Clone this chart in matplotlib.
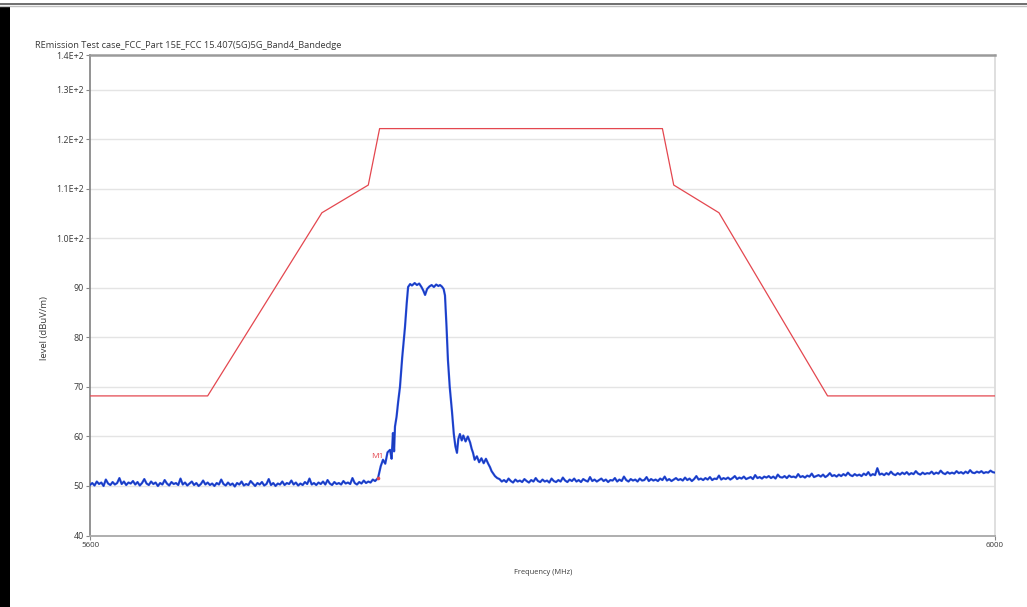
import numpy as np
import matplotlib
matplotlib.use("Agg")
import matplotlib.pyplot as plt
from matplotlib.patches import Rectangle
from matplotlib.lines import Line2D

# ---------------- data ----------------
title = "REmission Test case_FCC_Part 15E_FCC 15.407(5G)5G_Band4_Bandedge"
x_label = "Frequency (MHz)"
y_label = "level (dBuV/m)"

y_ticks = [40, 50, 60, 70, 80, 90, 100, 110, 120, 130, 137.07]
y_tick_labels = ["40", "50", "60", "70", "80", "90", "1.0E+2", "1.1E+2", "1.2E+2", "1.3E+2", "1.4E+2"]
x_ticks = [5600, 6000]
x_tick_labels = ["5600", "6000"]

limit_f = [5600, 5652, 5702.5, 5723, 5728, 5853, 5858, 5878, 5926, 6000]
limit_v = [68.2, 68.2, 105.2, 110.8, 122.2, 122.2, 110.8, 105.2, 68.2, 68.2]

# measured trace, lower band noise (5600 .. 5726 MHz, 1 MHz steps)
left_noise = [50.2, 50.6, 50.1, 50.9, 50.4, 50.7, 50.0, 51.3, 50.5, 50.2,
              50.8, 50.3, 50.6, 51.6, 50.4, 50.9, 50.2, 50.7, 50.5, 51.0,
              50.3, 50.8, 50.1, 50.6, 51.4, 50.5, 50.2, 50.9, 50.4, 50.7,
              50.0, 50.6, 50.3, 51.2, 50.5, 50.1, 50.8, 50.4, 50.6, 50.2,
              51.5, 50.3, 50.7, 50.1, 50.5, 50.9, 50.2, 50.6, 50.0, 50.4,
              51.1, 50.3, 50.7, 50.2, 50.5, 50.0, 50.6, 50.3, 51.3, 50.4,
              50.1, 50.7, 50.2, 50.5, 49.9, 50.6, 50.3, 50.9, 50.1, 50.4,
              50.2, 51.0, 50.5, 50.0, 50.6, 50.3, 50.8, 50.1, 50.4, 51.4,
              50.2, 50.6, 50.0, 50.5, 50.3, 50.9, 50.2, 50.6, 50.4, 51.1,
              50.3, 50.7, 50.1, 50.5, 50.2, 50.8, 50.4, 51.5, 50.3, 50.6,
              50.2, 50.7, 50.4, 50.9, 50.3, 51.2, 50.5, 50.2, 50.8, 50.4,
              50.6, 50.3, 51.0, 50.5, 50.7, 50.4, 51.6, 50.6, 50.3, 50.8,
              50.5, 51.1, 50.6, 50.9, 50.7, 51.3, 51.0]

# in-band emission (frequency, level)
sig_f = [5727.3, 5728.5, 5729.5, 5730.5, 5731.5, 5732.6, 5733.3, 5733.9, 5734.4, 5734.8,
         5735.5, 5736.2, 5737.0, 5738.0, 5739.2, 5740.0, 5740.6, 5741.5, 5742.3, 5743.5,
         5744.5, 5745.5, 5746.5, 5747.3, 5748.1, 5749.0, 5750.0, 5751.0, 5752.0, 5753.0,
         5754.0, 5754.7, 5755.5, 5756.3, 5756.9, 5757.6, 5758.2, 5759.0, 5760.0, 5760.8,
         5761.5, 5762.2, 5762.8, 5763.5, 5764.3, 5765.0, 5766.0, 5767.0, 5768.0, 5768.7,
         5769.3, 5770.0, 5771.0, 5772.0, 5773.0, 5774.0, 5775.0, 5776.0, 5776.8, 5777.5,
         5778.1, 5779.0, 5780.0]
sig_v = [51.6, 54.0, 55.3, 54.5, 56.8, 57.3, 55.5, 60.7, 57.0, 62.0,
         64.0, 67.0, 70.0, 76.0, 82.0, 87.0, 90.2, 90.8, 90.5, 91.0,
         90.6, 90.9, 90.2, 89.5, 88.6, 89.8, 90.3, 90.6, 90.2, 90.7,
         90.4, 90.6, 90.3, 89.8, 88.5, 82.0, 75.5, 70.0, 65.0, 60.5,
         58.0, 56.7, 59.5, 60.5, 59.2, 60.2, 59.0, 60.0, 58.8, 57.5,
         56.7, 55.3, 56.0, 54.8, 55.6, 54.6, 55.5, 54.5, 53.8, 53.0,
         52.6, 52.0, 51.6]

# upper band noise (5781 .. 6000 MHz, 1 MHz steps)
right_noise = [51.4, 50.9, 51.2, 50.8, 51.5, 51.0, 50.7, 51.3, 50.9, 51.1,
               50.8, 51.4, 51.0, 50.7, 51.2, 50.9, 51.6, 51.0, 50.8, 51.3,
               50.9, 51.1, 50.7, 51.5, 51.0, 50.8, 51.2, 50.9, 51.7, 51.1,
               50.8, 51.3, 51.0, 51.5, 50.9, 51.2, 50.8, 51.4, 51.1, 50.9,
               51.8, 51.0, 51.3, 50.9, 51.2, 51.5, 51.0, 51.3, 50.8, 51.2,
               51.1, 51.6, 50.9, 51.3, 51.0, 51.9, 51.2, 50.9, 51.4, 51.1,
               51.3, 50.9, 51.5, 51.1, 51.2, 51.8, 51.0, 51.4, 51.1, 51.3,
               51.0, 51.5, 51.2, 51.9, 51.1, 51.4, 51.0, 51.3, 51.6, 51.2,
               51.4, 51.1, 51.7, 51.2, 51.5, 51.0, 51.4, 52.0, 51.3, 51.5,
               51.2, 51.6, 51.3, 51.8, 51.2, 51.5, 51.4, 52.1, 51.3, 51.6,
               51.4, 51.7, 51.3, 51.6, 52.0, 51.4, 51.7, 51.5, 51.9, 51.4,
               51.6, 51.8, 51.4, 52.2, 51.6, 51.8, 51.5, 51.9, 51.7, 52.0,
               51.6, 51.9, 51.5, 52.3, 51.8, 51.7, 52.0, 51.6, 52.1, 51.8,
               51.9, 51.7, 52.4, 51.8, 52.0, 51.7, 52.1, 51.9, 52.5, 51.8,
               52.0, 52.2, 51.9, 52.3, 51.8, 52.1, 52.6, 52.0, 52.2, 51.9,
               52.3, 52.0, 52.4, 52.1, 52.7, 52.2, 52.0, 52.4, 52.1, 52.3,
               52.0, 52.5, 52.2, 52.8, 52.1, 52.4, 52.2, 53.6, 52.3, 52.5,
               52.2, 52.6, 52.3, 52.9, 52.4, 52.2, 52.6, 52.3, 52.7, 52.4,
               52.8, 52.3, 52.6, 52.4, 53.0, 52.5, 52.3, 52.7, 52.4, 52.6,
               52.5, 52.9, 52.4, 52.7, 52.5, 53.1, 52.6, 52.4, 52.8, 52.5,
               52.7, 52.5, 53.0, 52.6, 52.8, 52.5, 52.9, 52.6, 53.2, 52.7,
               52.6, 52.9, 52.7, 53.0, 52.6, 52.8, 52.7, 53.1, 52.8, 52.7]

marker_label = "M1"
marker_f = 5727.3
marker_v = 51.6

# ---------------- figure ----------------
W, H = 1027, 607
fig = plt.figure(figsize=(W / 100, H / 100), dpi=100)
fig.patch.set_facecolor("white")

font = "Open Sans"
txt = "#3a3a3a"

ax = fig.add_axes([90 / W, 1 - 535.5 / H, 905 / W, 480.5 / H])

left_f = np.linspace(5600, 5726, len(left_noise))
right_f = np.linspace(5781, 6000, len(right_noise))
trace_f = np.concatenate([left_f, sig_f, right_f])
trace_v = np.concatenate([left_noise, sig_v, right_noise])

ax.plot(limit_f, limit_v, color="#e4474f", lw=0.9, zorder=3)
ax.plot(trace_f, trace_v, color="#2a4fe0", lw=1.6, zorder=4)
ax.plot(trace_f, trace_v, color="#0b2a96", lw=0.5, zorder=5, alpha=0.7)

ax.plot([marker_f], [marker_v], marker="o", ms=1.6, color="#e4474f", zorder=6)
ax.text(marker_f + 2.5, marker_v + 3.6, marker_label, color="#e4474f",
        fontsize=6, family=font, ha="right", va="bottom", zorder=6)

ax.set_xlim(5600, 6000)
ax.set_ylim(40, 137.07)
ax.set_yticks(y_ticks)
ax.set_yticklabels(y_tick_labels, family=font, fontsize=6.4, color=txt)
ax.set_xticks(x_ticks)
ax.set_xticklabels(x_tick_labels, family=font, fontsize=5.8, color=txt)

for yv in y_ticks[1:-1]:
    ax.axhline(yv, color="#e4e4e4", lw=1.0, zorder=1)

ax.tick_params(axis="y", length=3, width=0.8, color="#888888", pad=1.5)
ax.tick_params(axis="x", length=3, width=0.8, color="#888888", pad=2)

ax.spines["left"].set_color("#8a8a8a")
ax.spines["left"].set_linewidth(1.3)
ax.spines["bottom"].set_color("#a8a8a8")
ax.spines["bottom"].set_linewidth(1.3)
ax.spines["top"].set_color("#9a9a9a")
ax.spines["top"].set_linewidth(1.8)
ax.spines["right"].set_color("#dcdcdc")
ax.spines["right"].set_linewidth(1.3)

fig.text(35 / W, 1 - 45 / H, title, family=font, fontsize=6.7, color=txt,
         ha="left", va="center")
fig.text(45 / W, 1 - 328 / H, y_label, family=font, fontsize=6.8, color=txt,
         rotation=90, ha="center", va="center")
fig.text(543 / W, 1 - 573 / H, x_label, family=font, fontsize=5.4, color=txt,
         ha="center", va="center")

# page decorations (screenshot frame)
fig.patches.append(Rectangle((0, 0), 10 / W, 1 - 7 / H, transform=fig.transFigure,
                             facecolor="black", edgecolor="none"))
fig.lines.append(Line2D([0, 1], [1 - 3.5 / H, 1 - 3.5 / H], transform=fig.transFigure,
                        color="#555555", lw=1.2))
fig.lines.append(Line2D([0, 1], [1 - 6 / H, 1 - 6 / H], transform=fig.transFigure,
                        color="#c0c0c0", lw=1.0))

fig.savefig("out.png", dpi=100)
